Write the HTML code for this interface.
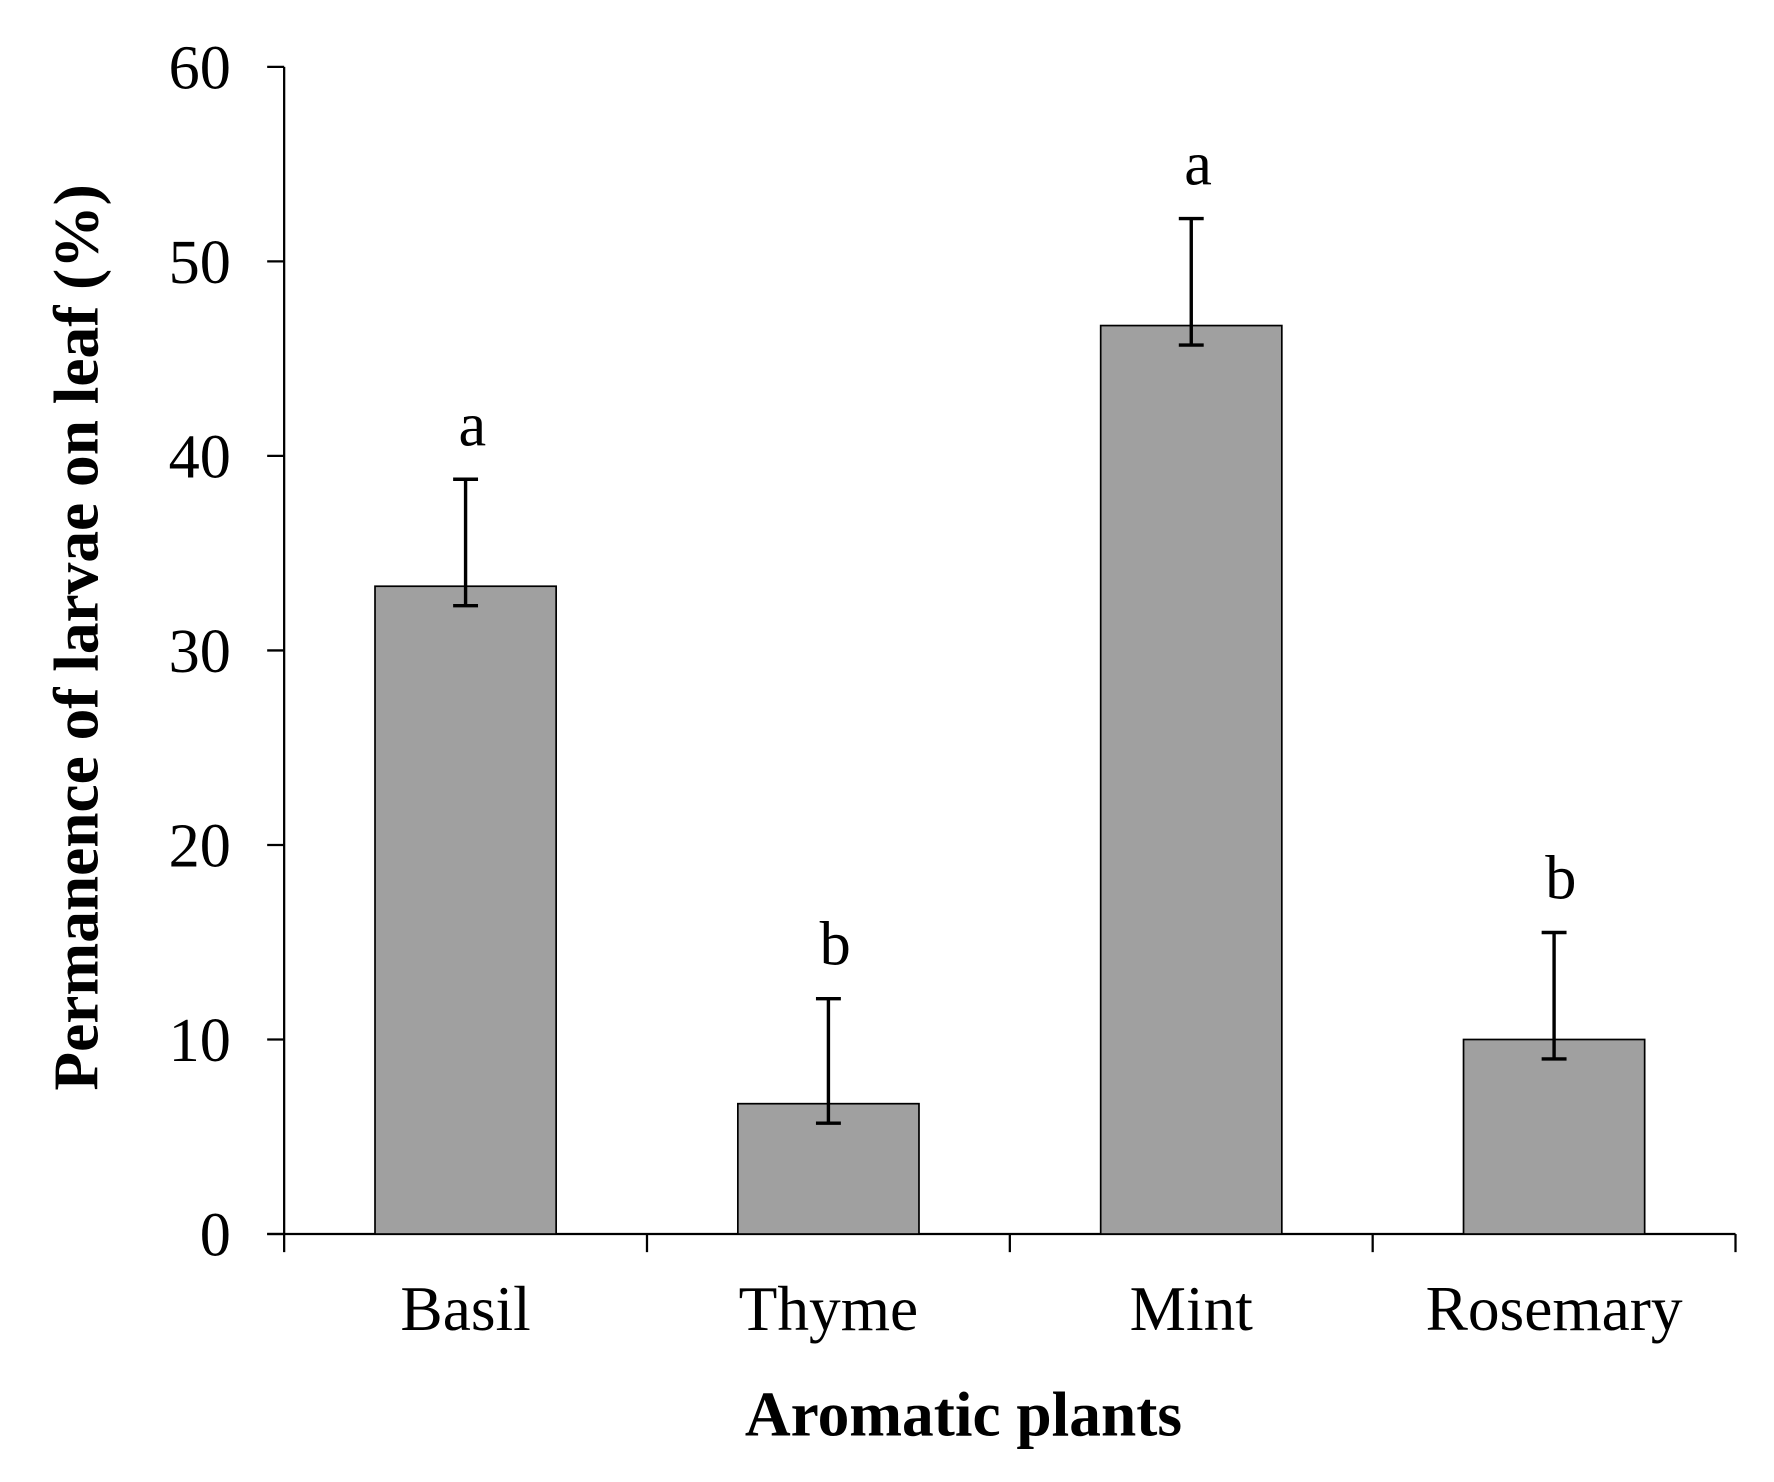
<!DOCTYPE html>
<html><head><meta charset="utf-8"><style>
html,body{margin:0;padding:0;background:#fff;}
svg{display:block;font-family:"Liberation Serif",serif;}
</style></head><body>
<svg id="chart" width="1774" height="1482" viewBox="0 0 1567 1309" xmlns="http://www.w3.org/2000/svg">
<rect width="1567" height="1309" fill="#fff"/>
<g id="axes"></g>
<g id="bars"></g>
<text x="851" y="1268" font-size="56" font-weight="bold" text-anchor="middle">Aromatic plants</text>
<text transform="translate(86,563) rotate(-90)" font-size="56" font-weight="bold" text-anchor="middle">Permanence of larvae on leaf (%)</text>
</svg>
<script>
const categories = ["Basil","Thyme","Mint","Rosemary"];
const values = [33.3, 6.7, 46.7, 10.0];
const errUpper = [38.8, 12.1, 52.2, 15.5];
const errLower = [32.3, 5.7, 45.7, 9.0];
const letters = ["a","b","a","b"];
const yTicks = [0,10,20,30,40,50,60];

const NS="http://www.w3.org/2000/svg";
const x0=251, x1=1533, yBase=1090, yTop=59, yMax=60;
const band=(x1-x0)/categories.length, barW=160;
function y(v){return yBase-(v/yMax)*(yBase-yTop);}
function xc(i){return x0+band*(i+0.5);}
function mk(tag,attrs,parent){const e=document.createElementNS(NS,tag);for(const k in attrs)e.setAttribute(k,attrs[k]);parent.appendChild(e);return e;}
const axes=document.getElementById('axes'), bars=document.getElementById('bars');

let yl=mk('line',{x1:x0,y1:yTop,x2:x0,y2:yBase,stroke:'#000','stroke-width':2},axes);


yTicks.forEach(t=>{
  let l=mk('line',{x1:236,y1:y(t),x2:x0,y2:y(t),stroke:'#000','stroke-width':2},axes);
  
  
  let tx=mk('text',{x:204,y:y(t)+19,'font-size':55,'text-anchor':'end'},axes);
  tx.textContent=t;
  
  
});
for(let i=0;i<=categories.length;i++){
  let l=mk('line',{x1:x0+band*i,y1:yBase,x2:x0+band*i,y2:1106,stroke:'#000','stroke-width':2},axes);
  
  
}
categories.forEach((c,i)=>{
  let r=mk('rect',{x:xc(i)-barW/2,y:y(values[i]),width:barW,height:yBase-y(values[i]),fill:'#a0a0a0',stroke:'#000','stroke-width':1.5},bars);
  
  
  let g=mk('g',{stroke:'#000','stroke-width':3},bars);
  
  
  mk('line',{x1:xc(i),y1:y(errUpper[i]),x2:xc(i),y2:y(errLower[i])},g);
  mk('line',{x1:xc(i)-11,y1:y(errUpper[i]),x2:xc(i)+11,y2:y(errUpper[i])},g);
  mk('line',{x1:xc(i)-11,y1:y(errLower[i]),x2:xc(i)+11,y2:y(errLower[i])},g);
  let lt=mk('text',{x:xc(i)+6,y:y(errUpper[i])-30,'font-size':55,'text-anchor':'middle'},bars);
  lt.textContent=letters[i];
  
  
  let cl=mk('text',{x:xc(i),y:1175,'font-size':56,'text-anchor':'middle'},axes);
  cl.textContent=c;
  
  
});
let xl=mk('line',{x1:236,y1:yBase,x2:x1,y2:yBase,stroke:'#000','stroke-width':2},axes);


</script>
</body></html>
